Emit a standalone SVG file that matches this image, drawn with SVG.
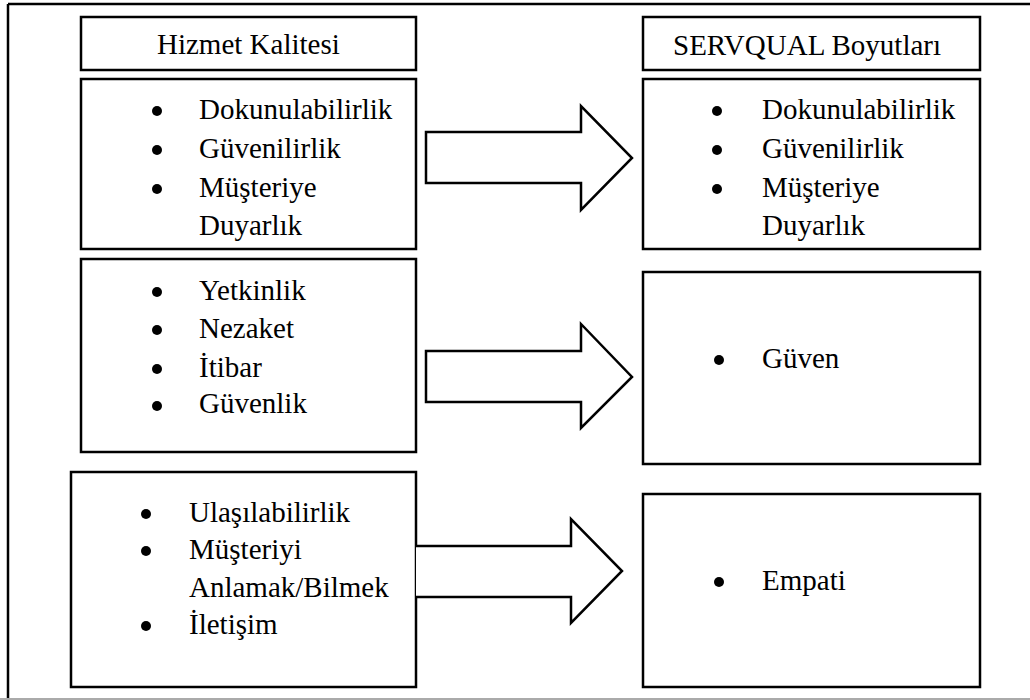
<svg xmlns="http://www.w3.org/2000/svg" width="1030" height="700" viewBox="0 0 1030 700">
<style>
.box{fill:#fff;stroke:#000;stroke-width:2.5}
.arrow{fill:#fff;stroke:#000;stroke-width:2.5;stroke-linejoin:miter}
.t{font-family:"Liberation Serif","Times New Roman",serif;font-size:29px;fill:#000}
.b{fill:#000}
</style>
<rect x="0" y="0" width="1030" height="700" fill="#fff"/>
<g id="frame">
<line x1="8" y1="4" x2="1030" y2="4" stroke="#000" stroke-width="2.5"/>
<line x1="8" y1="4" x2="8" y2="699" stroke="#000" stroke-width="2.5"/>
<line x1="0" y1="699" x2="1030" y2="699" stroke="#aaa" stroke-width="2"/>
</g>
<g id="header-left">
<rect class="box" x="81" y="17" width="335" height="53"/>
<text class="t" x="157" y="54">Hizmet Kalitesi</text>
</g>
<g id="header-right">
<rect class="box" x="643" y="17" width="337" height="53"/>
<text class="t" x="673" y="55">SERVQUAL Boyutları</text>
</g>
<g id="left-1">
<rect class="box" x="81" y="79" width="335" height="170"/>
<circle class="b" cx="157" cy="111" r="5"/><text class="t" x="199" y="119">Dokunulabilirlik</text>
<circle class="b" cx="157" cy="150" r="5"/><text class="t" x="199" y="158">Güvenilirlik</text>
<circle class="b" cx="157" cy="189" r="5"/><text class="t" x="199" y="197">Müşteriye</text>
<text class="t" x="199" y="235">Duyarlık</text>
</g>
<g id="right-1">
<rect class="box" x="643" y="79" width="337" height="170"/>
<circle class="b" cx="717" cy="111" r="5"/><text class="t" x="762" y="119">Dokunulabilirlik</text>
<circle class="b" cx="717" cy="150" r="5"/><text class="t" x="762" y="158">Güvenilirlik</text>
<circle class="b" cx="717" cy="189" r="5"/><text class="t" x="762" y="197">Müşteriye</text>
<text class="t" x="762" y="235">Duyarlık</text>
</g>
<g id="left-2">
<rect class="box" x="81" y="259" width="335" height="193"/>
<circle class="b" cx="157" cy="292" r="5"/><text class="t" x="199" y="300">Yetkinlik</text>
<circle class="b" cx="157" cy="330" r="5"/><text class="t" x="199" y="338">Nezaket</text>
<circle class="b" cx="157" cy="369" r="5"/><text class="t" x="199" y="377">İtibar</text>
<circle class="b" cx="157" cy="406" r="5"/><text class="t" x="199" y="413">Güvenlik</text>
</g>
<g id="right-2">
<rect class="box" x="643" y="272" width="337" height="192"/>
<circle class="b" cx="719" cy="360" r="5"/><text class="t" x="762" y="368">Güven</text>
</g>
<g id="left-3">
<rect class="box" x="71" y="472" width="345" height="215"/>
<circle class="b" cx="146" cy="514" r="5"/><text class="t" x="189" y="522">Ulaşılabilirlik</text>
<circle class="b" cx="146" cy="551" r="5"/><text class="t" x="189" y="559">Müşteriyi</text>
<text class="t" x="189" y="597">Anlamak/Bilmek</text>
<circle class="b" cx="146" cy="626" r="5"/><text class="t" x="189" y="634">İletişim</text>
</g>
<g id="right-3">
<rect class="box" x="643" y="494" width="337" height="193"/>
<circle class="b" cx="719" cy="582" r="5"/><text class="t" x="762" y="590">Empati</text>
</g>
<g id="connectors">
<polygon class="arrow" points="426,132 581,132 581,106 632,158 581,210 581,183 426,183"/>
<polygon class="arrow" points="426,351 581,351 581,324 632,377 581,428 581,402 426,402"/>
<path class="arrow" d="M416,546 H571 V519 L622,571 L571,623 V597 H416"/>
</g>
</svg>
